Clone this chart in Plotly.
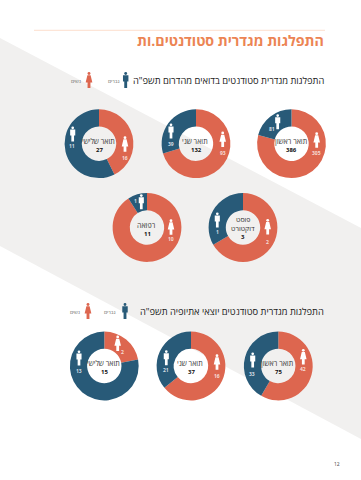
import plotly.graph_objects as go

W, H = 361, 480
ORANGE, BLUE = "#DD664F", "#285A78"
FONT = "Open Sans, DejaVu Sans, Liberation Sans, sans-serif"

# Donut data
names = [["תואר ראשון"], ["תואר שני"], ["תואר שלישי"], ["פוסט", "דוקטורט"], ["רפואה"],
         ["תואר ראשון"], ["תואר שני"], ["תואר שלישי"]]
totals = [386, 132, 27, 3, 11, 75, 37, 15]
women_labels = [305, 93, 16, 2, 10, 42, 16, 2]
men_labels = [81, 39, 11, 1, 1, 33, 21, 13]
# slice sizes as actually drawn in the reference
women_drawn = [305, 93, 11.5, 2, 10, 43.7, 23.7, 3.3]
men_drawn = [81, 39, 15.5, 1, 1, 31.3, 13.3, 11.7]

# Layout (pixels)
centers = [(291.5, 143.7), (196, 143.7), (99, 143.7), (243, 227.5), (147, 227.5),
           (278.3, 366), (191, 366), (104.3, 366)]
RADIUS = 34.4
woman_icon = [(316.7, 140), (222.7, 139.3), (125, 144), (267.7, 226.7), (171, 227),
              (303.3, 356.7), (217, 362), (117.7, 343.3)]
woman_text = [(316.7, 152.7), (222.7, 152.7), (125, 157.7), (267.7, 241.7), (171, 239.3),
              (303.3, 369), (217, 375.7), (122.3, 351.7)]
man_icon = [(277.7, 121.7), (171, 131), (72.7, 134), (217.3, 220), (141.3, 201.7),
            (252.7, 360), (166.3, 357.7), (79, 358)]
man_text = [(271.7, 129), (171, 144.3), (72, 146), (217, 231.7), (135.3, 200.7),
            (252, 374), (166, 370), (79.3, 370.7)]

title = "התפלגות מגדרית סטודנטים.ות"
sub1 = 'התפלגות מגדרית סטודנטים בדואים מהדרום תשפ"ה'
sub2 = 'התפלגות מגדרית סטודנטים יוצאי אתיופיה תשפ"ה'
men_word, women_word = "גברים", "נשים"
page = "12"


def px(x):
    return x / W


def py(y):
    return 1 - y / H


fig = go.Figure()
for i, c in enumerate(centers):
    fig.add_trace(go.Pie(
        values=[women_drawn[i], men_drawn[i]], labels=["נשים", "גברים"],
        domain=dict(x=[px(c[0] - RADIUS), px(c[0] + RADIUS)],
                    y=[py(c[1] + RADIUS), py(c[1] - RADIUS)]),
        hole=0.5, sort=False, direction="clockwise", rotation=0,
        marker=dict(colors=[ORANGE, BLUE], line=dict(width=0)),
        textinfo="none", hoverinfo="label+value", showlegend=False))

shapes = [
    dict(type="path", xref="paper", yref="paper", layer="below", line=dict(width=0),
         fillcolor="#F1F0EF",
         path=f"M {px(0)} {py(38)} L {px(361)} {py(228)} L {px(361)} {py(439)} L {px(0)} {py(246)} Z"),
    dict(type="line", xref="paper", yref="paper", x0=px(34), x1=px(325), y0=py(30.3), y1=py(30.3),
         line=dict(color="#FCD5C0", width=0.8)),
]
MAN = [(-.17, .2), (.17, .2), (.17, .6), (.09, .6), (.09, 1), (-.09, 1), (-.09, .6), (-.17, .6)]
WOMAN = [(-.1, .2), (.1, .2), (.21, .66), (.09, .66), (.09, 1), (-.09, 1), (-.09, .66), (-.21, .66)]


def icon(cx, cy, h, pts, color):
    top = cy - h / 2
    d = " ".join(("M" if k == 0 else "L") + f" {px(cx + a * h)} {py(top + b * h)}"
                 for k, (a, b) in enumerate(pts)) + " Z"
    shapes.append(dict(type="path", xref="paper", yref="paper", path=d, fillcolor=color,
                       line=dict(width=0), layer="above"))
    r = 0.09 * h
    shapes.append(dict(type="circle", xref="paper", yref="paper", fillcolor=color,
                       line=dict(width=0), layer="above",
                       x0=px(cx - r), x1=px(cx + r), y0=py(top + 2 * r), y1=py(top)))


anns = []


def text(x, y, s, size, color="#333333", anchor="center", bold=False):
    anns.append(dict(xref="paper", yref="paper", x=px(x), y=py(y), showarrow=False,
                     text=f"<b>{s}</b>" if bold else s, xanchor=anchor, yanchor="middle",
                     font=dict(family=FONT, size=size, color=color),
                     borderpad=0, align="center"))


for i, c in enumerate(centers):
    icon(*woman_icon[i], 15.5, WOMAN, "white")
    icon(*man_icon[i], 15, MAN, "white")
    text(*woman_text[i], women_labels[i], 5, "#F6DDD6", bold=True)
    text(*man_text[i], men_labels[i], 5, "#D5DEE4", bold=True)
    if len(names[i]) == 2:
        text(c[0], c[1] - 8.5, names[i][0], 7)
        text(c[0], c[1] + 0.5, names[i][1], 7)
        text(c[0], c[1] + 9, totals[i], 6, "#111111", bold=True)
    else:
        text(c[0] - 1, c[1] - 3, names[i][0], 7.1)
        text(c[0], c[1] + 6, totals[i], 6, "#111111", bold=True)

text(325, 40.5, title, 14.2, "#EC8453", "right", bold=True)
text(325, 81, sub1, 9.3, "#222222", "right")
text(325, 311.5, sub2, 9.3, "#222222", "right")
text(113.5, 81, men_word, 5, "#666666")
text(76, 81, women_word, 5, "#666666")
text(110, 312, men_word, 5, "#666666")
text(75, 312, women_word, 5, "#666666")
text(337, 463.5, page, 5, "#444444")
icon(125.7, 80, 16, MAN, BLUE)
icon(89, 80, 16, WOMAN, ORANGE)
icon(125, 311, 16, MAN, BLUE)
icon(88, 311, 16, WOMAN, ORANGE)

fig.update_layout(width=W, height=H, margin=dict(l=0, r=0, t=0, b=0),
                  paper_bgcolor="white", plot_bgcolor="white",
                  shapes=shapes, annotations=anns)
fig.write_html("out.html", config=dict(displayModeBar=False),
               post_script="document.body.style.margin='0';document.body.style.overflow='hidden';")
